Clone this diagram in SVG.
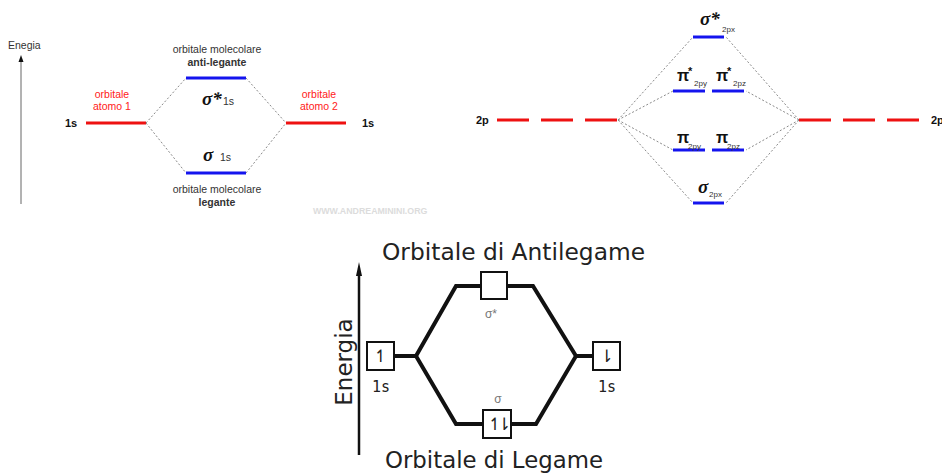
<svg xmlns="http://www.w3.org/2000/svg" width="942" height="475" viewBox="0 0 942 475">
<style>
.sans{font-family:"Liberation Sans",Arial,sans-serif}
.lbl{font-family:"Liberation Sans",Arial,sans-serif;font-size:10.5px;fill:#333}
.red{font-family:"Liberation Sans",Arial,sans-serif;font-size:10.5px;fill:#ff2020}
.bold{font-weight:bold}
.sig{font-family:"Liberation Serif","Times New Roman",serif;font-weight:bold;font-style:italic;fill:#111}
.pi{font-family:"Liberation Sans",Arial,sans-serif;font-weight:bold;fill:#111}
.sub{font-family:"Liberation Sans",Arial,sans-serif;font-size:8px;fill:#333}
.ao{stroke:#ee1111;stroke-width:3;fill:none}
.mo{stroke:#1414ee;stroke-width:3;fill:none}
.dot{stroke:#8a8a8a;stroke-width:1;stroke-dasharray:2 2;fill:none}
.big{font-family:"DejaVu Sans",sans-serif;font-size:23px;fill:#222}
.mono{font-family:"DejaVu Sans Mono",monospace;font-size:15px;fill:#222}
.box{fill:#fff;stroke:#111;stroke-width:2}
.spin{font-family:"DejaVu Sans",sans-serif;font-size:17px;fill:#222;text-anchor:middle}
.thick{stroke:#111;stroke-width:4;fill:none;stroke-linejoin:miter}
</style>

<!-- ===== Diagram 1 (top left) ===== -->
<g id="energy-axis-1">
  <line x1="21" y1="204" x2="21" y2="61" stroke="#666" stroke-width="1"/>
  <polygon points="21,55 18.5,62 23.5,62" fill="#111"/>
  <text class="lbl" x="8" y="49">Enegia</text>
</g>
<g id="ao-1s-atom1">
  <line class="ao" x1="86" y1="123" x2="146" y2="123"/>
  <text class="sans bold" x="65" y="127" font-size="11" fill="#111">1s</text>
  <text class="red" x="112" y="98" text-anchor="middle">orbitale</text>
  <text class="red" x="112" y="110" text-anchor="middle">atomo 1</text>
</g>
<g id="ao-1s-atom2">
  <line class="ao" x1="286" y1="123" x2="346" y2="123"/>
  <text class="sans bold" x="362" y="127" font-size="11" fill="#111">1s</text>
  <text class="red" x="319" y="98" text-anchor="middle">orbitale</text>
  <text class="red" x="319" y="110" text-anchor="middle">atomo 2</text>
</g>
<g id="mo-sigma-star-1s">
  <line class="mo" x1="186" y1="78" x2="246" y2="78"/>
  <text class="lbl" x="217" y="53" text-anchor="middle">orbitale molecolare</text>
  <text class="lbl bold" x="217" y="66" text-anchor="middle">anti-legante</text>
  <text class="sig" x="202" y="105" font-size="19">σ*</text>
  <text class="sans" x="223" y="105" font-size="10.5" fill="#333">1s</text>
</g>
<g id="mo-sigma-1s">
  <line class="mo" x1="186" y1="173" x2="246" y2="173"/>
  <text class="sig" x="203" y="161" font-size="19">σ</text>
  <text class="sans" x="220" y="161" font-size="10.5" fill="#333">1s</text>
  <text class="lbl" x="217" y="193" text-anchor="middle">orbitale molecolare</text>
  <text class="lbl bold" x="217" y="206" text-anchor="middle">legante</text>
</g>
<text class="sans bold" x="313" y="214" font-size="8.8" fill="#dcdcdc">WWW.ANDREAMININI.ORG</text>

<!-- ===== Diagram 2 (top right) ===== -->
<g id="ao-2p-left">
  <line class="ao" x1="497" y1="120" x2="618" y2="120" stroke-dasharray="32 12"/>
  <text class="sans bold" x="476" y="124" font-size="11" fill="#111">2p</text>
</g>
<g id="ao-2p-right">
  <line class="ao" x1="799" y1="120" x2="920" y2="120" stroke-dasharray="32 12"/>
  <text class="sans bold" x="931" y="124" font-size="11" fill="#111">2p</text>
</g>
<g id="mo-sigma-star-2px">
  <line class="mo" x1="693" y1="37" x2="724" y2="37"/>
  <text class="sig" x="700" y="25" font-size="19">σ*</text>
  <text class="sub" x="722" y="32">2px</text>
</g>
<g id="mo-pi-star-2py">
  <line class="mo" x1="673" y1="91" x2="705" y2="91"/>
  <text class="pi" x="677" y="81" font-size="16">π</text>
  <text class="pi" x="688" y="75" font-size="11">*</text>
  <text class="sub" x="694" y="86" font-size="9">2py</text>
</g>
<g id="mo-pi-star-2pz">
  <line class="mo" x1="712" y1="91" x2="744" y2="91"/>
  <text class="pi" x="716" y="81" font-size="16">π</text>
  <text class="pi" x="727" y="75" font-size="11">*</text>
  <text class="sub" x="733" y="86" font-size="9">2pz</text>
</g>
<g id="mo-pi-2py">
  <line class="mo" x1="673" y1="150" x2="705" y2="150"/>
  <text class="pi" x="677" y="143" font-size="16">π</text>
  <text class="sub" x="688" y="149" font-size="9">2py</text>
</g>
<g id="mo-pi-2pz">
  <line class="mo" x1="712" y1="150" x2="744" y2="150"/>
  <text class="pi" x="716" y="143" font-size="16">π</text>
  <text class="sub" x="727" y="149" font-size="9">2pz</text>
</g>
<g id="mo-sigma-2px">
  <line class="mo" x1="693" y1="203" x2="724" y2="203"/>
  <text class="sig" x="698" y="193" font-size="19">σ</text>
  <text class="sub" x="709" y="197">2px</text>
</g>

<!-- ===== Diagram 3 (bottom) ===== -->
<g id="energy-axis-3">
  <line x1="359" y1="455" x2="359" y2="272" stroke="#111" stroke-width="2.5"/>
  <polygon points="359,262 356,276 362,276" fill="#111"/>
  <text class="big" transform="translate(352,362) rotate(-90)" text-anchor="middle">Energia</text>
</g>
<g id="title-antilegame">
  <text class="big" x="382" y="260" textLength="263" lengthAdjust="spacingAndGlyphs">Orbitale di Antilegame</text>
</g>
<g id="title-legame">
  <text class="big" x="385" y="468" textLength="218" lengthAdjust="spacingAndGlyphs">Orbitale di Legame</text>
</g>

<!-- connectors -->
<g id="connectors">
  <line class="dot" x1="146" y1="123" x2="186" y2="78"/>
  <line class="dot" x1="146" y1="123" x2="186" y2="173"/>
  <line class="dot" x1="246" y1="78" x2="286" y2="123"/>
  <line class="dot" x1="246" y1="173" x2="286" y2="123"/>

  <line class="dot" x1="618" y1="120" x2="693" y2="37"/>
  <line class="dot" x1="618" y1="120" x2="673" y2="91"/>
  <line class="dot" x1="618" y1="120" x2="673" y2="150"/>
  <line class="dot" x1="618" y1="120" x2="693" y2="203"/>
  <line class="dot" x1="799" y1="120" x2="726" y2="37"/>
  <line class="dot" x1="799" y1="120" x2="746" y2="91"/>
  <line class="dot" x1="799" y1="120" x2="746" y2="150"/>
  <line class="dot" x1="799" y1="120" x2="726" y2="203"/>

  <polyline class="thick" points="394,356 416,356 456,286 481,286"/>
  <polyline class="thick" points="507,286 533,286 576,356 593,356"/>
  <polyline class="thick" points="416,356 456,424 483,424"/>
  <polyline class="thick" points="511,424 536,424 576,356"/>
</g>

<g id="ao-1s-left-box">
  <rect class="box" x="367" y="342" width="27" height="28"/>
  <text class="spin" x="380.5" y="362">↿</text>
  <text class="mono" x="372" y="392">1s</text>
</g>
<g id="ao-1s-right-box">
  <rect class="box" x="593" y="342" width="27" height="28"/>
  <text class="spin" x="606.5" y="362">⇂</text>
  <text class="mono" x="598" y="392">1s</text>
</g>
<g id="mo-sigma-star-box">
  <rect class="box" x="481" y="272" width="26" height="27"/>
  <text class="sans" x="491" y="318" font-size="12" fill="#777" text-anchor="middle">σ*</text>
</g>
<g id="mo-sigma-box">
  <rect class="box" x="483" y="410" width="28" height="28"/>
  <text class="spin" x="497" y="430" letter-spacing="-5">↿⇂</text>
  <text class="sans" x="498" y="403" font-size="12" fill="#777" text-anchor="middle">σ</text>
</g>
</svg>
